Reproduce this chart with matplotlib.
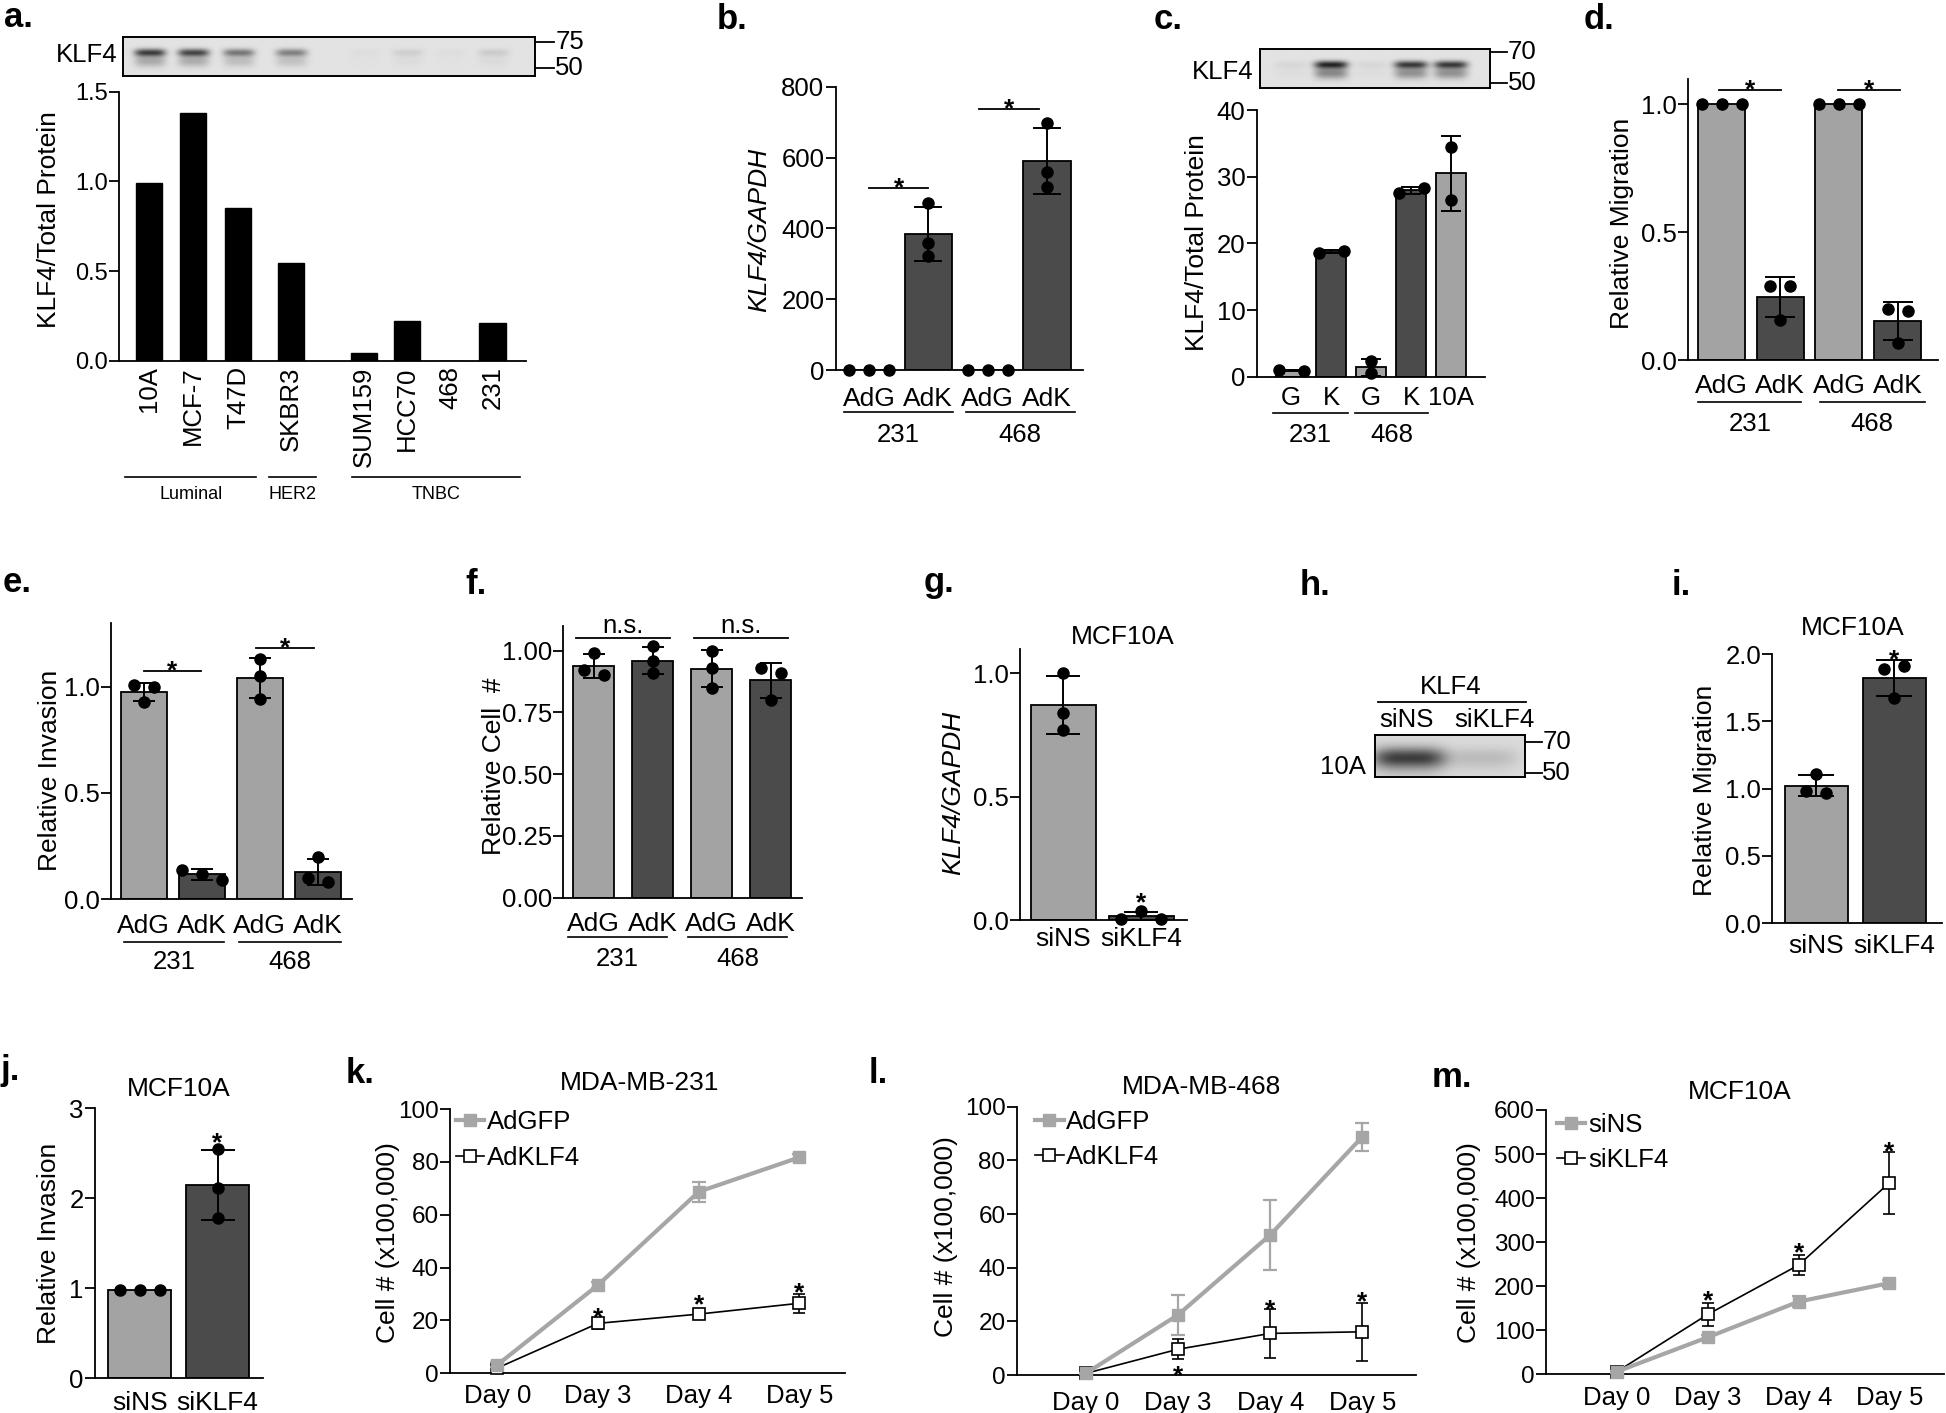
import numpy as np
import matplotlib
matplotlib.use("Agg")
import matplotlib.pyplot as plt
from matplotlib.lines import Line2D
from matplotlib.transforms import blended_transform_factory as blend

plt.rcParams['font.family'] = ['Liberation Sans', 'DejaVu Sans']

# ---------------- data ----------------
a_lines = ['10A', 'MCF-7', 'T47D', 'SKBR3', 'SUM159', 'HCC70', '468', '231']
a_values = [0.99, 1.38, 0.85, 0.546, 0.041, 0.221, 0.0, 0.209]
a_groups = ['Luminal', 'HER2', 'TNBC']
a_band = [0.85, 0.8, 0.55, 0.5, 0.03, 0.1, 0.03, 0.12]

ad_labels = ['AdG', 'AdK', 'AdG', 'AdK']
cells = ['231', '468']

b_mean = [1, 384, 1, 590]
b_sd = [0, 77, 0, 94]
b_pts = [[1, 1, 1], [471, 358, 323], [1, 1, 1], [697, 560, 517]]

c_labels = ['G', 'K', 'G', 'K', '10A']
c_mean = [0.95, 18.75, 1.4, 27.95, 30.5]
c_sd = [0.07, 0.21, 1.27, 0.49, 5.66]
c_pts = [[1.0, 0.9], [18.6, 18.9], [2.3, 0.5], [27.6, 28.3], [34.5, 26.5]]
c_band = [0.06, 0.95, 0.06, 0.85, 0.85]

d_mean = [1.0, 0.245, 1.0, 0.152]
d_sd = [0, 0.078, 0, 0.075]
d_pts = [[1, 1, 1], [0.29, 0.29, 0.155], [1, 1, 1], [0.2, 0.19, 0.065]]

e_mean = [0.975, 0.117, 1.04, 0.127]
e_sd = [0.043, 0.025, 0.095, 0.062]
e_pts = [[1.01, 1.0, 0.93], [0.14, 0.12, 0.09], [1.13, 1.05, 0.94], [0.2, 0.1, 0.08]]

f_mean = [0.937, 0.96, 0.927, 0.88]
f_sd = [0.048, 0.055, 0.075, 0.07]
f_pts = [[0.99, 0.92, 0.9], [1.02, 0.96, 0.91], [1.0, 0.93, 0.85], [0.93, 0.91, 0.8]]

si_labels = ['siNS', 'siKLF4']
g_mean = [0.87, 0.015]
g_sd = [0.118, 0.017]
g_pts = [[1.0, 0.84, 0.77], [0.005, 0.035, 0.005]]
g_star = 0.1

h_band = [0.75, 0.15]

i_mean = [1.02, 1.823]
i_sd = [0.078, 0.133]
i_pts = [[1.11, 0.98, 0.97], [1.89, 1.91, 1.67]]
i_star = 2.016

j_mean = [0.98, 2.147]
j_sd = [0, 0.386]
j_pts = [[0.98, 0.98, 0.98], [2.55, 2.11, 1.78]]
j_star = 2.70

days = ['Day 0', 'Day 3', 'Day 4', 'Day 5']
k_gfp = [3.2, 33.4, 68.7, 81.7]
k_gfp_sd = [1.0, 1.2, 3.8, 1.2]
k_klf = [2.0, 18.9, 22.4, 26.5]
k_klf_sd = [0.5, 2.0, 2.0, 3.5]
k_star = [24.0, 29.0, 33.4]

l_gfp = [0.6, 22.4, 52.2, 88.8]
l_gfp_sd = [0.3, 7.5, 13.2, 5.3]
l_klf = [0.6, 9.6, 15.5, 16.1]
l_klf_sd = [0.3, 3.7, 9.0, 10.7]
l_star = [2.5, 27.3, 30.4]

m_ns = [6, 84, 165, 207]
m_ns_sd = [2, 6, 12, 8]
m_si = [6, 136, 248, 435]
m_si_sd = [2, 26, 22, 70]
m_star = [184, 294, 524]

# ---------------- styling ----------------
LG = '#a3a3a3'
DG = '#4b4b4b'
LINEG = '#a6a6a6'
TS = 18.5    # tick label size
LS = 19      # axis label size
W, H = 1946, 1413

fig = plt.figure(figsize=(W / 100, H / 100), dpi=100)


def fy(py):
    return 1 - py / H


def mk(x0, x1, y0px, refpx, refval, top, xlim, yts=TS):
    ppu = (y0px - refpx) / refval
    ytop = y0px - top * ppu
    ax = fig.add_axes([x0 / W, 1 - y0px / H, (x1 - x0) / W, (y0px - ytop) / H])
    ax.set_xlim(*xlim)
    ax.set_ylim(0, top)
    for s in ('top', 'right'):
        ax.spines[s].set_visible(False)
    for s in ('left', 'bottom'):
        ax.spines[s].set_linewidth(1.3)
    ax.tick_params(axis='y', direction='out', length=7, width=1.3, labelsize=yts, pad=1)
    ax.tick_params(axis='x', length=0, labelsize=TS)
    ax.patch.set_visible(False)
    return ax


def ylab(ax, text, px, py, **kw):
    ax.set_ylabel(text, fontsize=LS, va='center', **kw)
    ax.yaxis.set_label_coords(px / W, fy(py), transform=fig.transFigure)


def swarm(ax, vals, spacing=20, thresh=11):
    ppx = ax.transData.transform((1, 0))[0] - ax.transData.transform((0, 0))[0]
    ys = [ax.transData.transform((0, v))[1] for v in vals]
    order = np.argsort(ys, kind='stable')
    groups = []
    for i in order:
        if groups and abs(ys[i] - ys[groups[-1][-1]]) < thresh:
            groups[-1].append(i)
        else:
            groups.append([i])
    offs = np.zeros(len(vals))
    for g in groups:
        g = sorted(g)
        n = len(g)
        for k, i in enumerate(g):
            offs[i] = (k - (n - 1) / 2) * spacing / ppx
    return offs


def bars(ax, pos, means, sds, pts, colors, width, cap, spacing=20):
    ax.bar(pos, means, width, color=colors, edgecolor='k', linewidth=1.3, zorder=2)
    for p, m, s in zip(pos, means, sds):
        if s > 0:
            ax.errorbar([p], [m], yerr=[s], fmt='none', ecolor='k', elinewidth=1.4,
                        capsize=cap, capthick=1.4, zorder=3)
    for p, vals in zip(pos, pts):
        offs = swarm(ax, vals, spacing)
        ax.plot(p + offs, vals, 'o', color='k', ms=8, zorder=4, clip_on=False)


def star(ax, x, y, fs=19, dy=0.0):
    ax.annotate('*', (x, y), xytext=(0, dy - 0.585 * fs), textcoords='offset points',
                ha='center', va='baseline', fontsize=fs, fontweight='bold',
                annotation_clip=False)


def sig(ax, x0, x1, y, text='*'):
    ax.plot([x0, x1], [y, y], color='k', lw=1.3, clip_on=False)
    if text == '*':
        star(ax, (x0 + x1) / 2, y, dy=6)
    else:
        ax.annotate(text, ((x0 + x1) / 2, y), xytext=(0, 3.5), textcoords='offset points',
                    ha='center', va='baseline', fontsize=TS, annotation_clip=False)


def groups(ax, spans, names, line_py, text_py, fs=TS):
    tr = blend(ax.transData, fig.transFigure)
    for (x0, x1), nm in zip(spans, names):
        ax.plot([x0, x1], [fy(line_py)] * 2, color='k', lw=1.2, transform=tr, clip_on=False)
        ax.text((x0 + x1) / 2, fy(text_py + 2), nm, transform=tr, ha='center', va='center',
                fontsize=fs)


def blot_ax(x0, x1, y0, y1, ref_ax=None, xlim=(0, 2)):
    ax = fig.add_axes([x0 / W, 1 - y1 / H, (x1 - x0) / W, (y1 - y0) / H])
    if ref_ax is not None:
        inv = ref_ax.transData.inverted()
        xlim = (inv.transform((x0, 0))[0], inv.transform((x1, 0))[0])
    for s in ax.spines.values():
        s.set_linewidth(1.4)
    ax.set_xticks([])
    ax.set_yticks([])
    return ax, xlim


def draw_blot(ax, xlim, lanes, amps, yc=0.4, hw=0.38, sy=0.1, smear=0.45, bg=0.89):
    xs = np.linspace(xlim[0], xlim[1], 600)
    ys = np.linspace(0, 1, 90)
    X, Y = np.meshgrid(xs, ys)
    img = np.full(X.shape, bg)
    for xc, a in zip(lanes, amps):
        hx = np.exp(-np.abs((X - xc) / hw) ** 4)
        hy = np.exp(-((Y - yc) / sy) ** 2) + smear * np.exp(-((Y - yc - 0.22) / (1.5 * sy)) ** 2)
        img = img - 0.75 * a * hx * hy
    img = np.clip(img, 0, 1)
    ax.imshow(img, cmap='gray', vmin=0, vmax=1, extent=(xlim[0], xlim[1], 1, 0),
              aspect='auto', interpolation='bilinear')
    ax.set_xlim(xlim)
    ax.set_ylim(1, 0)


def markers_right(ax, marks, x_end, fs=TS):
    for lab, yy in marks:
        ax.plot([1.0, x_end], [yy, yy], color='k', lw=1.3, transform=ax.transAxes, clip_on=False)
        ax.text(x_end + 0.004, yy, lab, transform=ax.transAxes, ha='left', va='center', fontsize=fs)


# ---------------- panel a ----------------
a_pos = [0, 1, 2.04, 3.25, 4.93, 5.92, 6.91, 7.89]
axa = mk(119.4, 526, 360.7, 91.7, 1.5, 1.5, (-0.69, 8.66), yts=17)
axa.bar(a_pos, a_values, 0.6, color='k', edgecolor='k', zorder=2)
axa.set_yticks([0, 0.5, 1.0, 1.5], ['0.0', '0.5', '1.0', '1.5'])
axa.set_xticks(a_pos, a_lines, rotation=90, va='top', ha='center')
axa.tick_params(axis='x', pad=4)
ylab(axa, 'KLF4/Total Protein', 49, 220)
groups(axa, [(-0.55, 2.45), (2.75, 3.83), (4.66, 8.52)], a_groups, 477, 493, fs=13)
bla, xla = blot_ax(122.6, 534.6, 37, 76, ref_ax=axa)
draw_blot(bla, xla, a_pos, a_band, yc=0.4, hw=0.36, sy=0.1, smear=0.35)
bla.text(-0.012, 0.54, 'KLF4', transform=bla.transAxes, ha='right', va='center', fontsize=TS)
markers_right(bla, [('75', 0.872), ('50', 0.205)], 1.046)

# ---------------- panel b ----------------
pos4 = [0, 1, 2, 3]
cols4 = [LG, DG, LG, DG]
axb = mk(835.5, 1083, 370, 86.7, 800, 800, (-0.565, 3.61))
bars(axb, pos4, b_mean, b_sd, b_pts, cols4, 0.8, 10)
axb.set_yticks([0, 200, 400, 600, 800])
axb.set_xticks(pos4, ad_labels)
axb.tick_params(axis='x', labelsize=19, pad=12)
ylab(axb, 'KLF4/GAPDH', 759, 230, style='italic')
sig(axb, 0.0, 1.0, 513)
sig(axb, 1.85, 2.86, 737)
groups(axb, [(-0.42, 1.42), (1.63, 3.47)], cells, 411.7, 433.3)

# ---------------- panel c ----------------
pos5 = [0, 1, 2, 3, 4]
axc = mk(1256.7, 1485, 376.7, 110, 40, 40, (-0.86, 4.85))
bars(axc, pos5, c_mean, c_sd, c_pts, [LG, DG, LG, DG, LG], 0.75, 7.5, spacing=25)
axc.set_yticks([0, 10, 20, 30, 40])
axc.set_xticks(pos5, c_labels)
axc.tick_params(axis='x', pad=6.5)
ylab(axc, 'KLF4/Total Protein', 1196.7, 243)
groups(axc, [(-0.45, 1.43), (1.6, 3.43)], cells, 413.3, 433)
blc, xlc = blot_ax(1260, 1490, 49.3, 88.3, ref_ax=axc)
draw_blot(blc, xlc, pos5, c_band, yc=0.4, hw=0.42, sy=0.1, smear=0.5)
blc.text(-0.03, 0.426, 'KLF4', transform=blc.transAxes, ha='right', va='center', fontsize=TS)
markers_right(blc, [('70', 0.938), ('50', 0.128)], 1.072)

# ---------------- panel d ----------------
axd = mk(1687.7, 1938, 360, 104.3, 1.0, 1.1, (-0.58, 3.69))
bars(axd, pos4, d_mean, d_sd, d_pts, cols4, 0.8, 11)
axd.set_yticks([0, 0.5, 1.0], ['0.0', '0.5', '1.0'])
axd.set_xticks(pos4, ad_labels)
axd.tick_params(axis='x', labelsize=19, pad=10)
ylab(axd, 'Relative Migration', 1622, 223)
sig(axd, -0.04, 1.01, 1.056)
sig(axd, 1.99, 3.04, 1.056)
groups(axd, [(-0.4, 1.36), (1.68, 3.46)], cells, 401.7, 421.7)

# ---------------- panel e ----------------
axe = mk(111.4, 352, 899.3, 686.7, 1.0, 1.3, (-0.56, 3.59))
bars(axe, pos4, e_mean, e_sd, e_pts, cols4, 0.8, 8)
axe.set_yticks([0, 0.5, 1.0], ['0.0', '0.5', '1.0'])
axe.set_xticks(pos4, ad_labels)
axe.tick_params(axis='x', labelsize=19, pad=10.5)
ylab(axe, 'Relative Invasion', 50, 770)
sig(axe, 0.0, 0.98, 1.075)
sig(axe, 1.93, 2.93, 1.183)
groups(axe, [(-0.35, 1.39), (1.64, 3.4)], cells, 942.3, 960)

# ---------------- panel f ----------------
axf = mk(563.2, 802, 897.7, 650.7, 1.0, 1.1, (-0.52, 3.53))
bars(axf, pos4, f_mean, f_sd, f_pts, cols4, 0.7, 8)
axf.set_yticks([0, 0.25, 0.5, 0.75, 1.0], ['0.00', '0.25', '0.50', '0.75', '1.00'])
axf.set_xticks(pos4, ad_labels)
axf.tick_params(axis='x', labelsize=19, pad=10.5)
ylab(axf, 'Relative Cell  #', 494, 766.7)
sig(axf, -0.31, 1.29, 1.05, 'n.s.')
sig(axf, 1.69, 3.29, 1.05, 'n.s.')
groups(axf, [(-0.44, 1.24), (1.6, 3.27)], cells, 937.3, 956.7)

# ---------------- panel g ----------------
pos2 = [0, 1]
axg = mk(1020, 1186.7, 920, 673.3, 1.0, 1.1, (-0.55, 1.58))
bars(axg, pos2, g_mean, g_sd, g_pts, [LG, DG], 0.83, 12)
axg.set_yticks([0, 0.5, 1.0], ['0.0', '0.5', '1.0'])
axg.set_xticks(pos2, si_labels)
axg.tick_params(axis='x', labelsize=19, pad=5)
ylab(axg, 'KLF4/GAPDH', 953.3, 793, style='italic')
star(axg, 1, g_star)
axg.set_title('MCF10A', fontsize=LS, pad=1)
axg.title.set_x(0.616)

# ---------------- panel h (blot) ----------------
blh, xlh = blot_ax(1375, 1524.7, 735, 777.3, xlim=(0, 2.07))
draw_blot(blh, xlh, [0.47, 1.47], h_band, yc=0.55, hw=0.5, sy=0.24, smear=0.15, bg=0.86)
blh.text(-0.063, 0.25, '10A', transform=blh.transAxes, ha='right', va='center', fontsize=TS)
blh.text(0.21, 1.35, si_labels[0], transform=blh.transAxes, ha='center', va='center', fontsize=TS)
blh.text(0.80, 1.35, si_labels[1], transform=blh.transAxes, ha='center', va='center', fontsize=TS)
blh.plot([0.02, 1.01], [1.787, 1.787], color='k', lw=1.3, transform=blh.transAxes, clip_on=False)
blh.text(0.504, 2.14, 'KLF4', transform=blh.transAxes, ha='center', va='center', fontsize=TS)
markers_right(blh, [('70', 0.842), ('50', 0.095)], 1.113)

# ---------------- panel i ----------------
axi = mk(1772.4, 1942, 923.3, 654, 2.0, 2.0, (-0.565, 1.61))
bars(axi, pos2, i_mean, i_sd, i_pts, [LG, DG], 0.81, 13)
axi.set_yticks([0, 0.5, 1.0, 1.5, 2.0], ['0.0', '0.5', '1.0', '1.5', '2.0'])
axi.set_xticks(pos2, si_labels)
axi.tick_params(axis='x', labelsize=19, pad=8)
ylab(axi, 'Relative Migration', 1705, 790)
star(axi, 1, i_star)
axi.set_title('MCF10A', fontsize=LS, pad=14)
axi.title.set_x(0.475)

# ---------------- panel j ----------------
axj = mk(94.9, 263.3, 1378.3, 1108.3, 3.0, 3.0, (-0.58, 1.59))
bars(axj, pos2, j_mean, j_sd, j_pts, [LG, DG], 0.81, 12.5)
axj.set_yticks([0, 1, 2, 3])
axj.set_xticks(pos2, si_labels)
axj.tick_params(axis='x', labelsize=19, pad=9)
ylab(axj, 'Relative Invasion', 49, 1243)
star(axj, 1, j_star)
axj.set_title('MCF10A', fontsize=LS, pad=8.7)


# ---------------- line panels ----------------
def growth(ax, top_vals, top_sd, bot_vals, bot_sd, labels, stars, leg_xy):
    x = np.arange(len(days))
    ax.errorbar(x, bot_vals, yerr=bot_sd, color='k', lw=1.2, marker='s', ms=8.3, mfc='white',
                mec='k', mew=1.2, ecolor='k', elinewidth=1.2, capsize=4.5, capthick=1.2,
                zorder=3, clip_on=False)
    ax.errorbar(x, top_vals, yerr=top_sd, color=LINEG, lw=3.0, marker='s', ms=9, mfc=LINEG,
                mec=LINEG, ecolor=LINEG, elinewidth=1.6, capsize=4.8, capthick=1.6,
                zorder=4, clip_on=False)
    for xi, sy in zip(x[1:], stars):
        star(ax, xi, sy)
    ax.set_xticks(x, days)
    h1 = Line2D([], [], color=LINEG, lw=3.0, marker='s', ms=9, mfc=LINEG, mec=LINEG)
    h2 = Line2D([], [], color='k', lw=1.2, marker='s', ms=8.3, mfc='white', mec='k', mew=1.2)
    ax.legend([h1, h2], labels, loc='upper left', bbox_to_anchor=leg_xy, frameon=False,
              fontsize=TS, handlelength=1.1, handletextpad=0.1, labelspacing=0.45,
              borderpad=0, borderaxespad=0)


axk = mk(450, 844.8, 1373.3, 1109, 100, 100, (-0.47, 3.45), yts=17.5)
growth(axk, k_gfp, k_gfp_sd, k_klf, k_klf_sd, ['AdGFP', 'AdKLF4'], k_star, (0.015, 0.996))
axk.set_yticks([0, 20, 40, 60, 80, 100])
axk.tick_params(axis='x', pad=8)
ylab(axk, 'Cell # (x100,000)', 388, 1243)
axk.set_title('MDA-MB-231', fontsize=LS, pad=14)
axk.title.set_x(0.481)

axl = mk(1016.6, 1415.9, 1375, 1106.7, 100, 100, (-0.75, 3.58), yts=17.5)
growth(axl, l_gfp, l_gfp_sd, l_klf, l_klf_sd, ['AdGFP', 'AdKLF4'], l_star, (0.047, 0.988))
axl.set_yticks([0, 20, 40, 60, 80, 100])
axl.tick_params(axis='x', pad=11.5)
ylab(axl, 'Cell # (x100,000)', 945.9, 1236.7)
axl.set_title('MDA-MB-468', fontsize=LS, pad=8.8)
axl.title.set_x(0.464)

axm = mk(1546, 1944, 1374.3, 1110, 600, 600, (-0.78, 3.6), yts=17.5)
growth(axm, m_ns, m_ns_sd, m_si, m_si_sd, ['siNS', 'siKLF4'], m_star, (0.028, 0.989))
axm.set_yticks([0, 100, 200, 300, 400, 500, 600])
axm.tick_params(axis='x', pad=8.4)
ylab(axm, 'Cell # (x100,000)', 1469, 1243)
axm.set_title('MCF10A', fontsize=LS, pad=7.6)
axm.title.set_x(0.487)

# ---------------- panel letters ----------------
letters = [('a.', 4, 27), ('b.', 717, 29), ('c.', 1154, 29), ('d.', 1584, 29),
           ('e.', 3, 592), ('f.', 465, 594), ('g.', 924, 592), ('h.', 1300, 595),
           ('i.', 1672, 595), ('j.', 0, 1080), ('k.', 346, 1083), ('l.', 869, 1083),
           ('m.', 1432, 1087)]
for t, px, py in letters:
    fig.text(px / W, fy(py), t, fontsize=25, fontweight='bold', ha='left', va='baseline')

fig.savefig('out.png', dpi=100)
